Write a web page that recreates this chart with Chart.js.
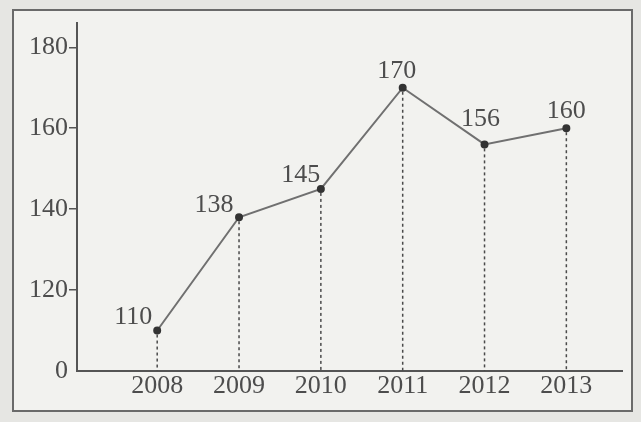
<!DOCTYPE html>
<html>
<head>
<meta charset="utf-8">
<script src="https://cdn.jsdelivr.net/npm/chart.js@4/dist/chart.umd.min.js"></script>
<style>
  html, body { margin: 0; padding: 0; background: #e9e9e6; }
  #wrap { width: 641px; height: 422px; }
</style>
</head>
<body>
<div id="wrap"><canvas id="lineChart" width="641" height="422"></canvas></div>
<script>
const years = [2008, 2009, 2010, 2011, 2012, 2013];
const values = [110, 138, 145, 170, 156, 160];
const yTicks = [100, 120, 140, 160, 180]; // 100 is shown as "0" (broken axis)

// label nudges (px) relative to each point
const labelShiftX = [-24, -25, -20, -6, -4, 0];
const labelShiftY = [7, 5, 7, 10, 18, 10];

const INK = '#4d4d4d';
const FONT = '"Liberation Serif", "DejaVu Serif", serif';

// Frame around the figure + paper tone
const framePlugin = {
    id: 'frame',
    beforeDraw(chart) {
        const c = chart.ctx;
        c.save();
        c.fillStyle = '#e6e6e3';
        c.fillRect(0, 0, chart.width, chart.height);
        c.fillStyle = '#f2f2ef';
        c.fillRect(13, 10, 619, 401);
        c.strokeStyle = '#6a6a6a';
        c.lineWidth = 2;
        c.strokeRect(13, 10, 619, 401);
        c.restore();
    }
};

// Dashed drop lines and value labels
const dropPlugin = {
    id: 'drops',
    afterDatasetsDraw(chart) {
        const c = chart.ctx;
        const xs = chart.scales.x, ys = chart.scales.y;
        const base = ys.getPixelForValue(100);
        c.save();
        c.strokeStyle = '#4a4a4a';
        c.lineWidth = 1.5;
        c.setLineDash([3, 3]);
        years.forEach((yr, i) => {
            const px = xs.getPixelForValue(yr);
            const py = ys.getPixelForValue(values[i]);
            c.beginPath();
            c.moveTo(px, py + 4);
            c.lineTo(px, base);
            c.stroke();
        });
        c.setLineDash([]);
        c.fillStyle = INK;
        c.font = '26px ' + FONT;
        c.textAlign = 'center';
        c.textBaseline = 'alphabetic';
        years.forEach((yr, i) => {
            const px = xs.getPixelForValue(yr);
            const py = ys.getPixelForValue(values[i]);
            c.fillText(String(values[i]), px + labelShiftX[i], py - labelShiftY[i]);
        });
        c.restore();
    }
};

const ctx = document.getElementById('lineChart').getContext('2d');
const chart = new Chart(ctx, {
    type: 'line',
    data: {
        datasets: [{
            data: years.map((yr, i) => ({ x: yr, y: values[i] })),
            borderColor: '#707070',
            borderWidth: 2,
            pointRadius: 3,
            pointBackgroundColor: '#333',
            pointBorderColor: '#333',
            tension: 0,
            fill: false
        }]
    },
    options: {
        responsive: false,
        animation: false,
        layout: { padding: { left: 0, right: 19, top: 23, bottom: 0 } },
        plugins: { legend: { display: false }, tooltip: { enabled: false } },
        scales: {
            x: {
                type: 'linear',
                min: 2007.02,
                max: 2013.68,
                afterFit: s => { s.height = 51; },
                afterBuildTicks: s => { s.ticks = years.map(v => ({ value: v })); },
                ticks: {
                    callback: v => String(v),
                    color: INK,
                    font: { family: FONT, size: 26 },
                    padding: 0,
                    maxRotation: 0
                },
                grid: { display: false, drawTicks: false },
                border: { color: '#555', width: 2 }
            },
            y: {
                min: 100,
                max: 186,
                afterFit: s => { s.width = 77; },
                afterBuildTicks: s => { s.ticks = yTicks.map(v => ({ value: v })); },
                ticks: {
                    callback: v => v === 100 ? '0' : String(v),
                    color: INK,
                    font: { family: FONT, size: 26 },
                    padding: 1
                },
                grid: {
                    drawOnChartArea: false,
                    drawTicks: true,
                    tickLength: 8,
                    tickColor: c => c.tick && c.tick.value === 100 ? 'rgba(0,0,0,0)' : '#555',
                    lineWidth: 1.5
                },
                border: { color: '#555', width: 2 }
            }
        }
    },
    plugins: [framePlugin, dropPlugin]
});
</script>
</body>
</html>
